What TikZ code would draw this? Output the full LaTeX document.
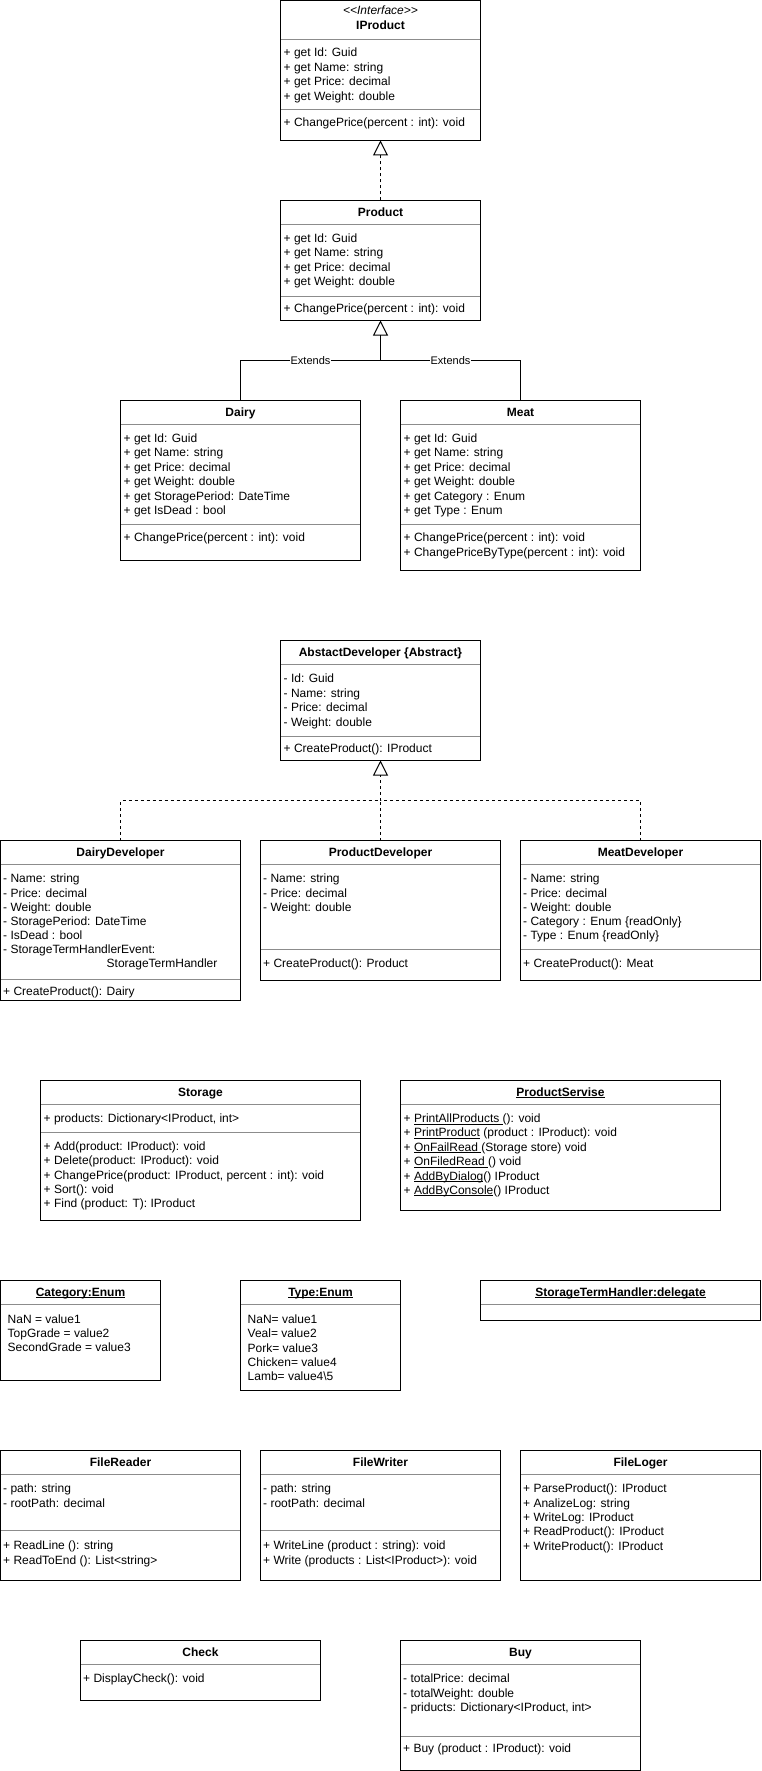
\documentclass[tikz,border=0pt]{standalone}
\usepackage{fontspec}
\setmainfont{Liberation Sans}
\usetikzlibrary{arrows.meta}
\newsavebox{\ulbox}
\newcommand{\ulx}[1]{\sbox{\ulbox}{#1}\rlap{\rule[-1.8pt]{\wd\ulbox}{0.8pt}}\usebox{\ulbox}}
% name, x1, y1, x2, y2, separators
\newcommand{\umlbox}[6]{%
  \foreach \s in {#6} {\draw[sepline] ({#2+0.5},\s) -- ({#4-0.5},\s);}
  \node[box, minimum width={#4-#2}, minimum height={#5-#3}, anchor=north west] (#1) at (#2,#3) {};}
% name, centre x, centre y, text
\newcommand{\umltitle}[4]{\node[ttl] (#1-t) at (#2,{#3+4.3}) {#4};}
% name, x, first centre y, step, list
\newcommand{\rows}[5]{\foreach \t [count=\i] in {#5} {\node[txt] (#1-\i) at (#2,{#3+(\i-1)*(#4)+4.3}) {\t};}}
\tikzset{
  box/.style={draw=black, line width=1pt, inner sep=0pt, outer sep=0pt},
  sepline/.style={draw=black!45, line width=1pt},
  txt/.style={anchor=base west, inner sep=0pt, font=\fontsize{12}{14.4}\selectfont},
  ttl/.style={anchor=base, inner sep=0pt, font=\bfseries\fontsize{12}{14.4}\selectfont},
  lbl/.style={fill=white, inner sep=0.8pt, font=\fontsize{11}{13}\selectfont},
  conn/.style={draw=black, line width=1pt},
  realize/.style={conn, dash pattern=on 3pt off 3pt},
  hollow/.style={-{Triangle[open, width=15pt, length=15pt, line width=1pt]}},
}
\begin{document}
\begin{tikzpicture}[x=1pt, y=-1pt]
\useasboundingbox (0,0) rectangle (761,1771);

% ---------- IProduct ----------
\umlbox{iprod}{280.5}{0.5}{480.5}{140.5}{39.5,109.5}
\node[txt, anchor=base, font=\itshape\fontsize{12}{14.4}\selectfont] (iprod-st) at (380.5,14.3) {<{}<Interface>{}>};
\umltitle{iprod}{380.5}{25}{IProduct}
\rows{iprod-a}{283.5}{52.5}{14.5}{{+ get Id: Guid},{+ get Name: string},{+ get Price: decimal},{+ get Weight: double}}
\rows{iprod-m}{283.5}{122.5}{14.5}{{+ ChangePrice(percent : int): void}}

% ---------- Product ----------
\umlbox{prod}{280.5}{200.5}{480.5}{320.5}{224.5,296.5}
\umltitle{prod}{380.5}{212}{Product}
\rows{prod-a}{283.5}{238}{14.5}{{+ get Id: Guid},{+ get Name: string},{+ get Price: decimal},{+ get Weight: double}}
\rows{prod-m}{283.5}{308.5}{14.5}{{+ ChangePrice(percent : int): void}}

% ---------- Dairy ----------
\umlbox{dairy}{120.5}{400.5}{360.5}{560.5}{424.5,524.5}
\umltitle{dairy}{240.5}{412.5}{Dairy}
\rows{dairy-a}{123.5}{438.3}{14.35}{{+ get Id: Guid},{+ get Name: string},{+ get Price: decimal},{+ get Weight: double},{+ get StoragePeriod: DateTime},{+ get IsDead : bool}}
\rows{dairy-m}{123.5}{537.5}{14.5}{{+ ChangePrice(percent : int): void}}

% ---------- Meat ----------
\umlbox{meat}{400.5}{400.5}{640.5}{570.5}{424.5,524.5}
\umltitle{meat}{520.5}{412.5}{Meat}
\rows{meat-a}{403.5}{438.3}{14.35}{{+ get Id: Guid},{+ get Name: string},{+ get Price: decimal},{+ get Weight: double},{+ get Category : Enum},{+ get Type : Enum}}
\rows{meat-m}{403.5}{537.5}{14.5}{{+ ChangePrice(percent : int): void},{+ ChangePriceByType(percent : int): void}}

% ---------- connectors (top) ----------
\draw[realize, hollow] (prod.north) -- (iprod.south);
\coordinate (j1) at (380.5,360.5);
\draw[conn, hollow] (j1) -- (prod.south);
\draw[conn] (dairy.north) |- node[lbl, pos=0.75] (ext1) {Extends} (j1);
\draw[conn] (meat.north) |- node[lbl, pos=0.75] (ext2) {Extends} (j1);

% ---------- AbstactDeveloper ----------
\umlbox{absdev}{280.5}{640.5}{480.5}{760.5}{664.5,736.5}
\umltitle{absdev}{380.5}{652}{AbstactDeveloper \{Abstract\}}
\rows{absdev-a}{283.5}{678.3}{14.5}{{- Id: Guid},{- Name: string},{- Price: decimal},{- Weight: double}}
\rows{absdev-m}{283.5}{748.5}{14.5}{{+ CreateProduct(): IProduct}}

% ---------- DairyDeveloper ----------
\umlbox{dairydev}{0.5}{840.5}{240.5}{1000.5}{864.5,979.5}
\umltitle{dairydev}{120.5}{852.5}{DairyDeveloper}
\rows{dairydev-a}{3}{878.5}{14.2}{{- Name: string},{- Price: decimal},{- Weight: double},{- StoragePeriod: DateTime},{- IsDead : bool},{- StorageTermHandlerEvent:}}
\node[txt] (dairydev-w) at (106.5,967.6) {StorageTermHandler};
\rows{dairydev-m}{3}{990.7}{14.5}{{+ CreateProduct(): Dairy}}

% ---------- ProductDeveloper ----------
\umlbox{proddev}{260.5}{840.5}{500.5}{980.5}{864.5,949.5}
\umltitle{proddev}{380.5}{852.5}{ProductDeveloper}
\rows{proddev-a}{263}{878.5}{14.2}{{- Name: string},{- Price: decimal},{- Weight: double}}
\rows{proddev-m}{263}{962.7}{14.5}{{+ CreateProduct(): Product}}

% ---------- MeatDeveloper ----------
\umlbox{meatdev}{520.5}{840.5}{760.5}{980.5}{864.5,949.5}
\umltitle{meatdev}{640.5}{852.5}{MeatDeveloper}
\rows{meatdev-a}{523}{878.5}{14.2}{{- Name: string},{- Price: decimal},{- Weight: double},{- Category : Enum \{readOnly\}},{- Type : Enum \{readOnly\}}}
\rows{meatdev-m}{523}{962.7}{14.5}{{+ CreateProduct(): Meat}}

% ---------- connectors (developers) ----------
\coordinate (j2) at (380.5,800.5);
\draw[realize, hollow] (j2) -- (absdev.south);
\draw[realize] (proddev.north) -- (j2);
\draw[realize] (dairydev.north) |- (j2);
\draw[realize] (meatdev.north) |- (j2);

% ---------- Storage ----------
\umlbox{storage}{40.5}{1080.5}{360.5}{1220.5}{1104.5,1132.5}
\umltitle{storage}{200.5}{1092}{Storage}
\rows{storage-a}{43.5}{1118}{14.4}{{+ products: Dictionary<IProduct, int>}}
\rows{storage-m}{43.5}{1146}{14.4}{{+ Add(product: IProduct): void},{+ Delete(product: IProduct): void},{+ ChangePrice(product: IProduct, percent : int): void},{+ Sort(): void},{+ Find (product: T): IProduct}}

% ---------- ProductServise ----------
\umlbox{prodserv}{400.5}{1080.5}{720.5}{1210.5}{1104.5}
\umltitle{prodserv}{560.5}{1092}{\ulx{ProductServise}}
\rows{prodserv-m}{403.5}{1118.3}{14.35}{{+ \ulx{PrintAllProducts }(): void},{+ \ulx{PrintProduct} (product : IProduct): void},{+ \ulx{OnFailRead }(Storage store) void},{+ \ulx{OnFiledRead }() void},{+ \ulx{AddByDialog}() IProduct},{+ \ulx{AddByConsole}() IProduct}}

% ---------- Enums ----------
\umlbox{category}{0.5}{1280.5}{160.5}{1380.5}{1304.5}
\umltitle{category}{80.5}{1292}{\ulx{Category:Enum}}
\rows{category-a}{7.5}{1319.3}{14}{{NaN = value1},{TopGrade = value2},{SecondGrade = value3}}

\umlbox{type}{240.5}{1280.5}{400.5}{1390.5}{1304.5}
\umltitle{type}{320.5}{1292}{\ulx{Type:Enum}}
\rows{type-a}{247.5}{1319.3}{14.2}{{NaN= value1},{Veal= value2},{Pork= value3},{Chicken= value4},{Lamb= value4\textbackslash 5}}

\umlbox{sth}{480.5}{1280.5}{760.5}{1320.5}{1304.5}
\umltitle{sth}{620.5}{1292}{\ulx{StorageTermHandler:delegate}}

% ---------- File classes ----------
\umlbox{freader}{0.5}{1450.5}{240.5}{1580.5}{1474.5,1530.5}
\umltitle{freader}{120.5}{1462}{FileReader}
\rows{freader-a}{3}{1488.3}{14.4}{{- path: string},{- rootPath: decimal}}
\rows{freader-m}{3}{1545.3}{14.4}{{+ ReadLine (): string},{+ ReadToEnd (): List<string>}}

\umlbox{fwriter}{260.5}{1450.5}{500.5}{1580.5}{1474.5,1530.5}
\umltitle{fwriter}{380.5}{1462}{FileWriter}
\rows{fwriter-a}{263}{1488.3}{14.4}{{- path: string},{- rootPath: decimal}}
\rows{fwriter-m}{263}{1545.3}{14.4}{{+ WriteLine (product : string): void},{+ Write (products : List<IProduct>): void}}

\umlbox{floger}{520.5}{1450.5}{760.5}{1580.5}{1474.5}
\umltitle{floger}{640.5}{1462}{FileLoger}
\rows{floger-m}{523}{1488.3}{14.4}{{+ ParseProduct(): IProduct},{+ AnalizeLog: string},{+ WriteLog: IProduct},{+ ReadProduct(): IProduct},{+ WriteProduct(): IProduct}}

% ---------- Check / Buy ----------
\umlbox{check}{80.5}{1640.5}{320.5}{1700.5}{1664.5}
\umltitle{check}{200.5}{1652}{Check}
\rows{check-m}{83}{1678.3}{14.4}{{+ DisplayCheck(): void}}

\umlbox{buy}{400.5}{1640.5}{640.5}{1770.5}{1664.5,1736.5}
\umltitle{buy}{520.5}{1652}{Buy}
\rows{buy-a}{403}{1678.3}{14.4}{{- totalPrice: decimal},{- totalWeight: double},{- priducts: Dictionary<IProduct, int>}}
\rows{buy-m}{403}{1748.3}{14.4}{{+ Buy (product : IProduct): void}}
\end{tikzpicture}
\end{document}
